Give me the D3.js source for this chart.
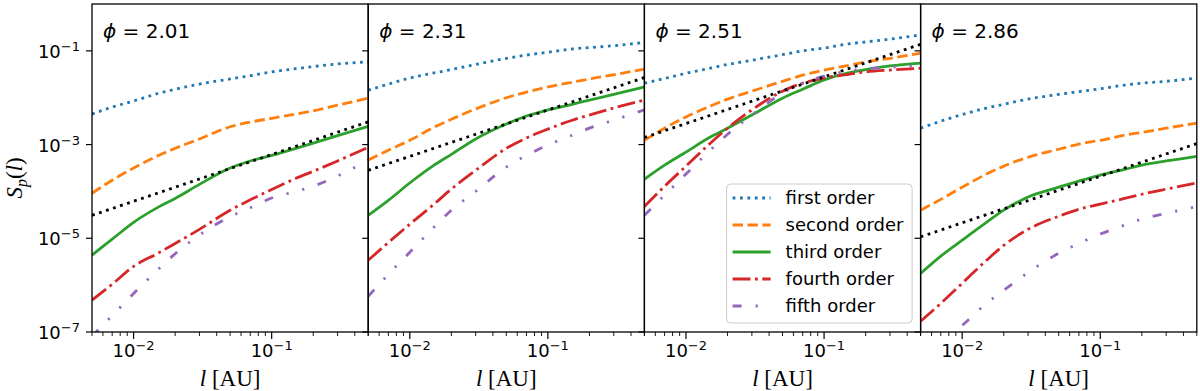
<!DOCTYPE html>
<meta charset="utf-8">
<style>
  body { margin: 0; background: #fff; }
  text { font-family: "DejaVu Sans", sans-serif; fill: #000; }
  .serif { font-family: "Liberation Serif", "DejaVu Serif", serif; }
</style>
<body>
<script src="https://d3js.org/d3.v7.min.js"></script>
<script>

var width = 1200,
    height = 391,
    left = 92,
    top0 = 4,
    panelW = 276.2,
    panelH = 328;

// separation l [AU], same for every panel
var lengths = [0.005, 0.007, 0.01, 0.015, 0.02, 0.03, 0.05, 0.07, 0.1, 0.15, 0.2, 0.3, 0.5];
var phis = ["2.01", "2.31", "2.51", "2.86"];

// log10 S_p(l), one row per panel
var firstOrder = [
  [-2.35, -2.20, -2.07, -1.91, -1.82, -1.71, -1.60, -1.53, -1.45, -1.38, -1.335, -1.28, -1.233],
  [-1.84, -1.71, -1.58, -1.47, -1.40, -1.29, -1.16, -1.09, -1.03, -0.96, -0.93, -0.89, -0.82],
  [-1.69, -1.59, -1.48, -1.37, -1.29, -1.20, -1.08, -1.00, -0.94, -0.85, -0.81, -0.75, -0.66],
  [-2.65, -2.50, -2.36, -2.22, -2.14, -2.03, -1.93, -1.87, -1.81, -1.73, -1.69, -1.65, -1.58]
];
var secondOrder = [
  [-4.04, -3.76, -3.50, -3.24, -3.08, -2.88, -2.62, -2.52, -2.44, -2.35, -2.28, -2.16, -2.01],
  [-3.33, -3.12, -2.91, -2.63, -2.46, -2.24, -2.00, -1.88, -1.77, -1.67, -1.60, -1.51, -1.39],
  [-2.91, -2.65, -2.41, -2.18, -2.03, -1.86, -1.65, -1.52, -1.41, -1.31, -1.24, -1.16, -1.05],
  [-4.40, -4.17, -3.91, -3.63, -3.46, -3.27, -3.10, -2.99, -2.91, -2.80, -2.74, -2.65, -2.54]
];
var thirdOrder = [
  [-5.36, -5.02, -4.66, -4.34, -4.15, -3.85, -3.50, -3.35, -3.23, -3.08, -2.97, -2.81, -2.61],
  [-4.51, -4.19, -3.82, -3.44, -3.21, -2.88, -2.56, -2.39, -2.26, -2.14, -2.05, -1.93, -1.77],
  [-3.74, -3.44, -3.16, -2.84, -2.65, -2.37, -2.01, -1.82, -1.62, -1.47, -1.40, -1.32, -1.26],
  [-5.75, -5.38, -5.04, -4.66, -4.40, -4.12, -3.91, -3.78, -3.65, -3.53, -3.44, -3.35, -3.25]
];
var fourthOrder = [
  [-6.32, -5.98, -5.60, -5.32, -5.11, -4.81, -4.40, -4.18, -3.96, -3.72, -3.57, -3.35, -3.06],
  [-5.47, -5.09, -4.70, -4.27, -3.95, -3.55, -3.08, -2.86, -2.67, -2.48, -2.37, -2.22, -2.05],
  [-4.32, -3.89, -3.46, -2.97, -2.65, -2.26, -1.86, -1.69, -1.58, -1.50, -1.45, -1.41, -1.37],
  [-6.77, -6.39, -5.96, -5.47, -5.15, -4.81, -4.53, -4.38, -4.27, -4.15, -4.06, -3.95, -3.82]
];
var fifthOrder = [
  [-7.09, -6.65, -6.18, -5.67, -5.33, -4.93, -4.54, -4.35, -4.14, -4.00, -3.89, -3.67, -3.33],
  [-6.24, -5.77, -5.30, -4.76, -4.40, -4.00, -3.48, -3.23, -3.01, -2.80, -2.65, -2.48, -2.26],
  [-4.51, -4.08, -3.63, -3.12, -2.78, -2.37, -1.90, -1.69, -1.54, -1.43, -1.39, -1.35, -1.32],
  [-7.63, -7.26, -6.86, -6.39, -6.11, -5.73, -5.32, -5.11, -4.91, -4.72, -4.59, -4.47, -4.32]
];

// black dotted reference line, end points at l = 0.005 and 0.5
var refLengths = [0.005, 0.5];
var refLine = [
  [-4.51, -2.515],
  [-3.55, -1.57],
  [-2.85, -0.86],
  [-4.97, -2.98]
];

var orderNames = ["first order", "second order", "third order", "fourth order", "fifth order"];
var yTickValues = [1e-1, 1e-3, 1e-5, 1e-7];

var series = [firstOrder, secondOrder, thirdOrder, fourthOrder, fifthOrder];
var colors = ["#1f77b4", "#ff7f0e", "#2ca02c", "#d62728", "#9467bd"];
var dashes = ["2.8,4.6", "10.4,4.5", null, "17.9,4.5,2.8,4.5", "9,14,2.2,14,2.2,14"];

var x = d3.scaleLog().domain([0.005, 0.5]).range([0, panelW]);
var y = d3.scaleLog().domain([1e-7, 1]).range([panelH, 0]);

var line = d3.line()
    .x(function(d) { return x(d[0]); })
    .y(function(d) { return y(d[1]); })
    .curve(d3.curveMonotoneX);

var svg = d3.select("body").append("svg")
    .attr("width", width)
    .attr("height", height);

svg.append("defs").append("clipPath").attr("id", "clip")
  .append("rect").attr("width", panelW).attr("height", panelH);

function pow10(arr, xs) {
  return arr.map(function(v, i) { return [xs[i], Math.pow(10, v)]; });
}

function sciLabel(sel, exp) {
  sel.append("tspan").text("10");
  sel.append("tspan").style("font-size", "13px").attr("dy", -7).text("\u2212" + exp);
}

phis.forEach(function(phi, p) {
  var g = svg.append("g")
      .attr("transform", "translate(" + (left + p * panelW) + "," + top0 + ")");

  var plot = g.append("g").attr("clip-path", "url(#clip)");

  series.forEach(function(s, k) {
    plot.append("path")
        .attr("d", line(pow10(s[p], lengths)))
        .attr("fill", "none")
        .attr("stroke", colors[k])
        .attr("stroke-width", 2.8)
        .attr("stroke-dasharray", dashes[k]);
  });

  plot.append("path")
      .attr("d", line(pow10(refLine[p], refLengths)))
      .attr("fill", "none")
      .attr("stroke", "#000")
      .attr("stroke-width", 2.8)
      .attr("stroke-dasharray", "2.8,4.6");

  // frame
  g.append("rect")
      .attr("width", panelW)
      .attr("height", panelH)
      .attr("fill", "none")
      .attr("stroke", "#000")
      .attr("stroke-width", 1.3);

  // y ticks
  yTickValues.forEach(function(v) {
    g.append("line")
        .attr("x1", -6).attr("x2", 0)
        .attr("y1", y(v)).attr("y2", y(v))
        .attr("stroke", "#000").attr("stroke-width", 1.2);
    if (p == 0) {
      var t = g.append("text")
          .attr("x", -12)
          .attr("y", y(v) + 7)
          .attr("text-anchor", "end")
          .style("font-size", "18px");
      sciLabel(t, Math.round(-Math.log10(v)));
    }
  });

  // x ticks
  x.ticks().forEach(function(v) {
    var e = Math.log10(v);
    var major = Math.abs(e - Math.round(e)) < 1e-9;
    g.append("line")
        .attr("x1", x(v)).attr("x2", x(v))
        .attr("y1", panelH).attr("y2", panelH + (major ? 7 : 4))
        .attr("stroke", "#000").attr("stroke-width", major ? 1.2 : 0.9);
    if (major) {
      var t = g.append("text")
          .attr("x", x(v))
          .attr("y", panelH + 25)
          .attr("text-anchor", "middle")
          .style("font-size", "18px");
      sciLabel(t, Math.round(-e));
    }
  });

  // panel title
  var lab = g.append("text")
      .attr("x", 11)
      .attr("y", 34)
      .style("font-size", "20px");
  lab.append("tspan").style("font-style", "italic").text("\u03d5");
  lab.append("tspan").text(" = " + phi);

  // x label
  var xl = g.append("text")
      .attr("class", "serif")
      .attr("x", panelW / 2)
      .attr("y", 382)
      .attr("text-anchor", "middle")
      .style("font-size", "23px");
  xl.append("tspan").style("font-style", "italic").text("l");
  xl.append("tspan").text(" [AU]");

  // legend lives in the third panel
  if (p == 2) {
    var lg = g.append("g").attr("transform", "translate(" + (panelW - 194) + "," + (panelH - 148) + ")");
    lg.append("rect")
        .attr("width", 185.5)
        .attr("height", 139)
        .attr("rx", 4)
        .attr("fill", "#fff")
        .attr("fill-opacity", 0.8)
        .attr("stroke", "#cccccc")
        .attr("stroke-width", 1);
    orderNames.forEach(function(name, k) {
      var yy = 14 + k * 27;
      lg.append("line")
          .attr("x1", 6).attr("x2", 44)
          .attr("y1", yy).attr("y2", yy)
          .attr("stroke", colors[k])
          .attr("stroke-width", 2.8)
          .attr("stroke-dasharray", dashes[k]);
      lg.append("text")
          .attr("x", 59)
          .attr("y", yy + 6)
          .style("font-size", "18px")
          .text(name);
    });
  }
});

// y label
var yl = svg.append("text")
    .attr("class", "serif")
    .attr("transform", "translate(22," + (top0 + panelH / 2 + 10) + ") rotate(-90)")
    .attr("text-anchor", "middle")
    .style("font-size", "23px");
yl.append("tspan").style("font-style", "italic").text("S");
yl.append("tspan").style("font-style", "italic").style("font-size", "16px").attr("dy", 5).text("p");
yl.append("tspan").attr("dy", -5).text("(");
yl.append("tspan").style("font-style", "italic").text("l");
yl.append("tspan").text(")");

</script>
</body>
</html>
